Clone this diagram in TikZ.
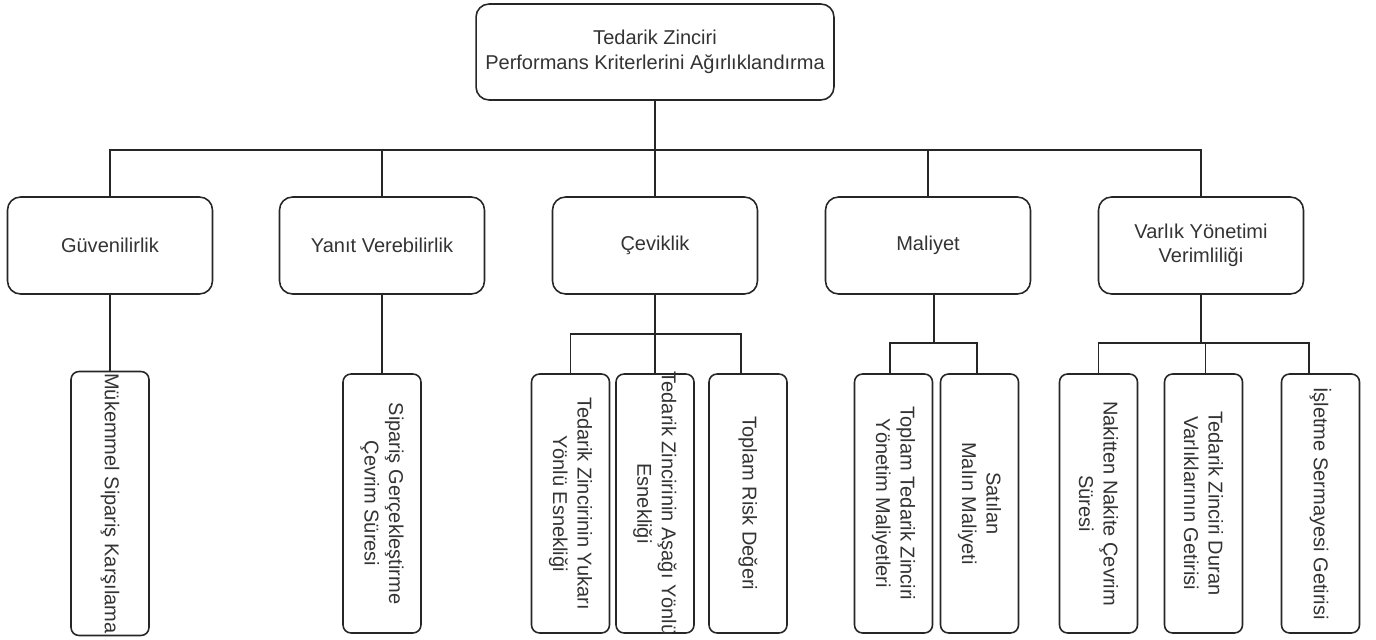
\documentclass[tikz,border=0pt]{standalone}
\usepackage{fontspec}
\setmainfont{Liberation Sans}
\newcommand{\boxfont}{\fontsize{11.4}{13.9}\selectfont}
\tikzset{
  crit/.style={draw=black!85, line width=0.9pt, rounded corners=0.26cm, align=center, text=black!80, font=\boxfont, inner sep=1pt},
  maincrit/.style={crit, minimum width=4.1cm, minimum height=1.94cm},
  leaf/.style={crit, rounded corners=0.16cm, rotate=-90, minimum width=5.18cm, minimum height=1.56cm},
  link/.style={draw=black!85, line width=0.9pt}
}
\begin{document}
\begin{tikzpicture}[x=0.02cm,y=0.02cm]
    \useasboundingbox (0,0) rectangle (1376,-639);

    % Root
    \node[crit, minimum width=7.16cm, minimum height=1.92cm] (root) at (655,-52)
        {Tedarik Zinciri\\Performans Kriterlerini Ağırlıklandırma};

    % Main criteria
    \node[maincrit] (gu) at (110,-245.5) {Güvenilirlik};
    \node[maincrit] (ya) at (382,-245.5) {Yanıt Verebilirlik};
    \node[maincrit] (ce) at (655,-245.5) {Çeviklik};
    \node[maincrit] (ma) at (928,-245.5) {Maliyet};
    \node[maincrit] (va) at (1201,-245.5) {Varlık Yönetimi\\Verimliliği};

    % Sub criteria
    \node[leaf] (gu1) at (110,-503.5) {Mükemmel Sipariş Karşılama};
    \node[leaf] (ya1) at (382,-503.5) {Sipariş Gerçekleştirme\\Çevrim Süresi};
    \node[leaf] (ce1) at (570.5,-503.5) {Tedarik Zincirinin Yukarı\\Yönlü Esnekliği};
    \node[leaf, inner xsep=-0.12cm] (ce2) at (655,-503.5) {Tedarik Zincirinin Aşağı Yönlü\\Esnekliği};
    \node[leaf] (ce3) at (748,-503.5) {Toplam Risk Değeri};
    \node[leaf] (ma1) at (893.5,-503.5) {Toplam Tedarik Zinciri\\Yönetim Maliyetleri};
    \node[leaf] (ma2) at (979.5,-503.5) {Satılan\\Malın Maliyeti};
    \node[leaf] (va1) at (1098.5,-503.5) {Nakitten Nakite Çevrim\\Süresi};
    \node[leaf] (va2) at (1203.5,-503.5) {Tedarik Zinciri Duran\\Varlıklarının Getirisi};
    \node[leaf] (va3) at (1320.5,-503.5) {İşletme Sermayesi Getirisi};

    % Root to main criteria
    \foreach \c in {gu,ya,ce,ma,va}
        \draw[link] (root.south) -- ++(0,-49) -| (\c.north);

    % Main criteria to sub criteria
    \draw[link] (gu.south) -- (gu1.west);
    \draw[link] (ya.south) -- (ya1.west);

    \draw[link] (ce.south) -- ++(0,-39) -| (ce1.west);
    \draw[link] (ce.south) -- (ce2.west);
    \draw[link] (ce.south) -- ++(0,-39) -| ([xshift=-0.14cm]ce3.west);

    \draw[link] ([xshift=0.12cm]ma.south) -- ++(0,-48) -| ([xshift=-0.07cm]ma1.west);
    \draw[link] ([xshift=0.12cm]ma.south) -- ++(0,-48) -| ([xshift=-0.05cm]ma2.west);

    \draw[link] (va.south) -- ++(0,-48) -| (va1.west);
    \draw[link] (va.south) -- ++(0,-48) -| ([xshift=0.04cm]va2.west);
    \draw[link] (va.south) -- ++(0,-48) -| ([xshift=-0.23cm]va3.west);

\end{tikzpicture}
\end{document}
